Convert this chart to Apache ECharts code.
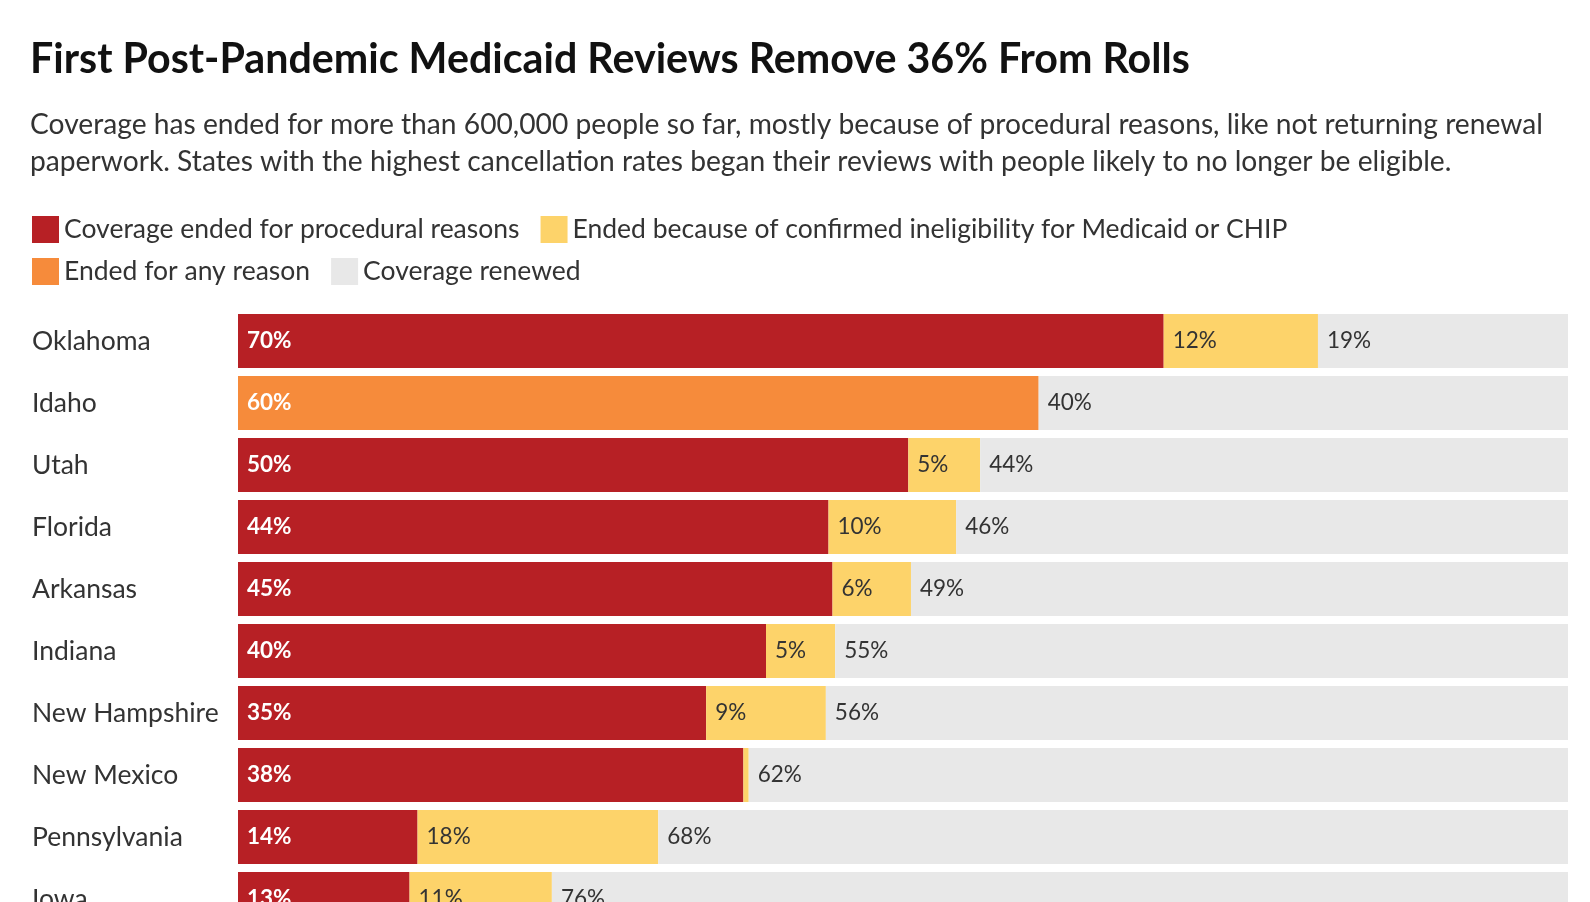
<!DOCTYPE html>
<html>
<head>
<meta charset="utf-8">
<script src="https://cdn.jsdelivr.net/npm/echarts@6/dist/echarts.min.js"></script>
<style>
  html, body { margin: 0; padding: 0; background: #fff; overflow: hidden; }
  #chart { width: 1590px; height: 940px; }
</style>
</head>
<body>
<div id="chart"></div>
<script>
const states = ['Oklahoma', 'Idaho', 'Utah', 'Florida', 'Arkansas', 'Indiana',
  'New Hampshire', 'New Mexico', 'Pennsylvania', 'Iowa']

// share of reviewed enrollees, percent
const procedural = [69.6, null, 50.4, 44.4, 44.7, 39.7, 35.2, 38.0, 13.5, 12.9]
const ineligible = [11.6, null, 5.4, 9.6, 5.9, 5.2, 9.0, 0.4, 18.1, 10.7]
const anyReason = [null, 60.2, null, null, null, null, null, null, null, null]
const renewed = [18.8, 39.8, 44.2, 46.0, 49.4, 55.1, 55.8, 61.6, 68.4, 76.4]

const names = [
  'Coverage ended for procedural reasons',
  'Ended because of confirmed ineligibility for Medicaid or CHIP',
  'Ended for any reason',
  'Coverage renewed'
]
const colors = ['#b72025', '#fdd36a', '#f68b3b', '#e8e8e8']

const font = 'Lato, "Source Sans Pro", "Noto Sans", sans-serif'

const pct = (p) => (p.value == null || p.value < 1) ? '' : Math.round(p.value) + '%'

const makeSeries = (i, data, dark) => ({
  name: names[i],
  type: 'bar',
  stack: 'total',
  data,
  barWidth: 54,
  itemStyle: { color: colors[i] },
  label: {
    show: true,
    position: 'insideLeft',
    distance: 9,
    formatter: pct,
    fontFamily: font,
    fontSize: 22.5,
    color: dark ? '#333' : '#fff',
    fontWeight: dark ? 'normal' : 'bold'
  },
  emphasis: { disabled: true }
})

const legendBase = {
  left: 27,
  icon: 'rect', itemWidth: 27, itemHeight: 27, itemGap: 21,
  selectedMode: false,
  textStyle: { fontFamily: font, fontSize: 26.5, color: '#333' }
}

const option = {
  animation: false,
  textStyle: { fontFamily: font },
  title: [
    {
      left: 25,
      top: 34,
      text: 'First Post-Pandemic Medicaid Reviews Remove 36% From Rolls',
      textStyle: { fontFamily: font, fontSize: 41.2, fontWeight: 'bold', color: '#111' }
    },
    {
      left: 25,
      top: 101,
      text: 'Coverage has ended for more than 600,000 people so far, mostly because of procedural reasons, like not returning renewal\npaperwork. States with the highest cancellation rates began their reviews with people likely to no longer be eligible.',
      textStyle: { fontFamily: font, fontSize: 28.2, fontWeight: 'normal', color: '#333', lineHeight: 37 }
    }
  ],
  legend: [
    Object.assign({ data: [names[0], names[1]], top: 211 }, legendBase),
    Object.assign({ data: [names[2], names[3]], top: 253 }, legendBase)
  ],
  grid: { left: 238, right: 22, top: 310, height: 620 },
  xAxis: {
    type: 'value', min: 0, max: 100,
    show: false
  },
  yAxis: {
    type: 'category',
    data: states,
    inverse: true,
    axisLine: { show: false },
    axisTick: { show: false },
    axisLabel: {
      align: 'left',
      margin: 206,
      fontFamily: font,
      fontSize: 26.5,
      color: '#333'
    }
  },
  series: [
    makeSeries(0, procedural, false),
    makeSeries(1, ineligible, true),
    makeSeries(2, anyReason, false),
    makeSeries(3, renewed, true)
  ]
}

const chart = echarts.init(document.getElementById('chart'), null, { renderer: 'canvas' })
chart.setOption(option)
</script>
</body>
</html>
